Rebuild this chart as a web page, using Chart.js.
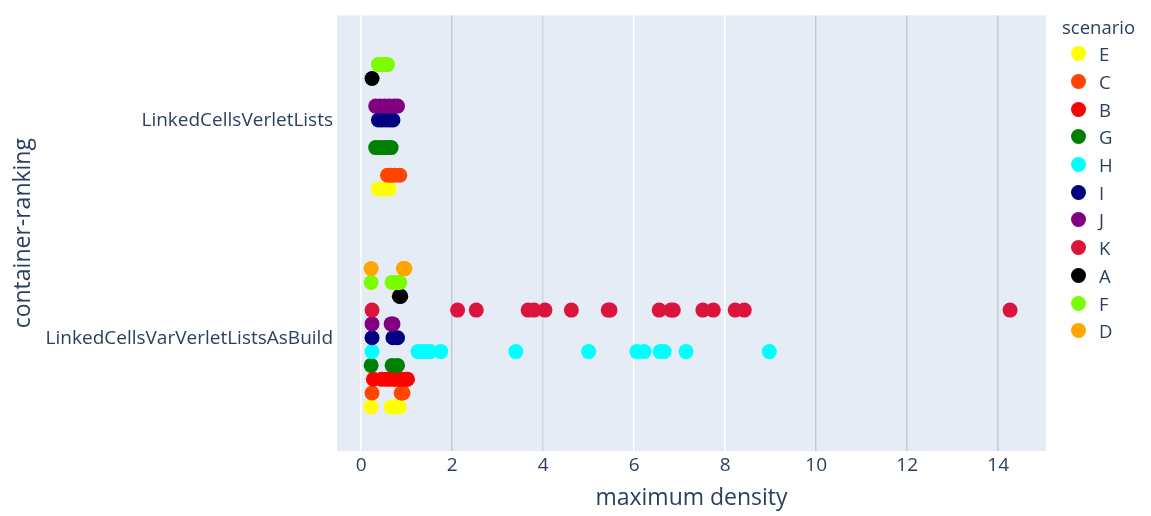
<!DOCTYPE html>
<html>
<head>
<meta charset="utf-8">
<script src="https://cdn.jsdelivr.net/npm/chart.js@4"></script>
<style>
  html, body { margin: 0; padding: 0; background: #fff; }
  #wrap { position: relative; width: 1151px; height: 516px; font-family: "Open Sans", sans-serif; color: #2a3f5f; }
  #legend { position: absolute; left: 1062px; top: 13px; font-size: 18.5px; }
  #legend .title { height: 27px; line-height: 27px; }
  #legend .item { height: 27.7px; display: flex; align-items: center; }
  #legend .dot { width: 15px; height: 15px; border-radius: 50%; margin-left: 9px; margin-right: 13px; }
</style>
</head>
<body>
<div id="wrap">
  <canvas id="chart" width="1151" height="516"></canvas>
  <div id="legend"></div>
</div>
<script>
// ── Data ──────────────────────────────────────────────────
const containers = ['LinkedCellsVarVerletListsAsBuild', 'LinkedCellsVerletLists'];
const scenarios  = ['E', 'C', 'B', 'G', 'H', 'I', 'J', 'K', 'A', 'F', 'D'];
const colors     = ['#ffff00', '#ff4500', '#ff0000', '#008000', '#00ffff', '#000080',
                    '#800080', '#dc143c', '#000000', '#7cfc00', '#ffa500'];

// maximum density per scenario (same order as scenarios)
const asBuild = [
  [0.22, 0.66, 0.70, 0.76, 0.84],                                   // E
  [0.24, 0.88, 0.92],                                               // C
  [0.27, 0.45, 0.55, 0.62, 0.70, 0.76, 0.84, 0.90, 0.98, 1.02],     // B
  [0.22, 0.68, 0.80],                                               // G
  [0.24, 1.25, 1.30, 1.41, 1.52, 1.75, 3.40, 5.00, 6.06, 6.22,
   6.57, 6.66, 7.14, 8.97],                                         // H
  [0.24, 0.70, 0.80],                                               // I
  [0.24, 0.66, 0.70],                                               // J
  [0.24, 2.12, 2.53, 3.67, 3.80, 4.04, 4.62, 5.43, 5.47, 6.55,
   6.81, 6.86, 7.51, 7.74, 8.22, 8.42, 14.26],                      // K
  [0.84, 0.86, 0.87],                                               // A
  [0.22, 0.68, 0.72, 0.80, 0.85],                                   // F
  [0.22, 0.93, 0.95, 0.96],                                         // D
];
const verletLists = [
  [0.38, 0.46, 0.55, 0.62],                 // E
  [0.58, 0.66, 0.74, 0.85],                 // C
  [],                                       // B
  [0.32, 0.40, 0.50, 0.58, 0.66],           // G
  [],                                       // H
  [0.38, 0.46, 0.55, 0.63, 0.70],           // I
  [0.32, 0.42, 0.52, 0.62, 0.72, 0.80],     // J
  [],                                       // K
  [0.24],                                   // A
  [0.38, 0.45, 0.52, 0.58],                 // F
  [],                                       // D
];

const xTicks = [0, 2, 4, 6, 8, 10, 12, 14];

// ── Layout helpers ────────────────────────────────────────
const TEXT   = '#2a3f5f';
const FONT   = '"Open Sans", sans-serif';
const GROUP_STEP = 0.0635;   // offset between scenario strips inside a category
const groupOffset = i => (i - 5) * GROUP_STEP + 0.02;

const gridColors = { 0: '#ffffff', 2: '#c6c9cf', 4: '#d2d6dd', 6: '#ffffff',
                     8: '#ffffff', 10: '#c6c9cf', 12: '#c6c9cf', 14: '#c6c9cf' };

const datasets = scenarios.map((name, i) => {
  const data = [];
  asBuild[i].forEach(x => data.push({ x, y: 0 + groupOffset(i) }));
  verletLists[i].forEach(x => data.push({ x, y: 1 + groupOffset(i) }));
  return {
    label: name, data,
    backgroundColor: colors[i], borderColor: colors[i],
    pointRadius: 7.5, pointHoverRadius: 7.5, borderWidth: 0,
    order: scenarios.length - i,
  };
});

const plotBg = {
  id: 'plotBg',
  beforeDraw(chart) {
    const { ctx, chartArea: a } = chart;
    ctx.save();
    ctx.fillStyle = '#e5ecf6';
    ctx.fillRect(a.left, a.top, a.right - a.left, a.bottom - a.top);
    ctx.restore();
  },
};

new Chart(document.getElementById('chart').getContext('2d'), {
  type: 'scatter',
  data: { datasets },
  plugins: [plotBg],
  options: {
    responsive: false, animation: false,
    layout: { padding: { top: 10, right: 105, left: 0, bottom: 0 } },
    scales: {
      x: {
        type: 'linear', min: -0.53, max: 15.05,
        afterBuildTicks: s => { s.ticks = xTicks.map(v => ({ value: v })); },
        afterFit: s => { s.height = 65; },
        border: { display: false },
        grid: {
          drawTicks: false, lineWidth: 1.5,
          color: c => gridColors[c.tick?.value] || '#ffffff',
        },
        ticks: { color: TEXT, padding: 3, font: { family: FONT, size: 19 } },
        title: {
          display: true, text: 'maximum density', color: TEXT,
          font: { family: FONT, size: 23 }, padding: { top: 0, bottom: 4 },
        },
      },
      y: {
        type: 'linear', min: -0.5, max: 1.5,
        afterBuildTicks: s => { s.ticks = [{ value: 0 }, { value: 1 }]; },
        afterFit: s => { s.width = 337; },
        border: { display: false },
        grid: { display: false, drawTicks: false },
        ticks: {
          color: TEXT, padding: 4, labelOffset: -4, font: { family: FONT, size: 19 },
          callback: v => containers[v],
        },
        title: {
          display: true, text: 'container-ranking', color: TEXT,
          font: { family: FONT, size: 23 }, padding: { top: 10, bottom: 0 },
        },
      },
    },
    plugins: { legend: { display: false }, tooltip: { enabled: false } },
  },
});

// HTML legend, placed like the original's right-hand legend
const legendEl = document.getElementById('legend');
legendEl.innerHTML = '<div class="title">scenario</div>' + scenarios.map((s, i) =>
  `<div class="item"><span class="dot" style="background:${colors[i]}"></span>${s}</div>`
).join('');
</script>
</body>
</html>
